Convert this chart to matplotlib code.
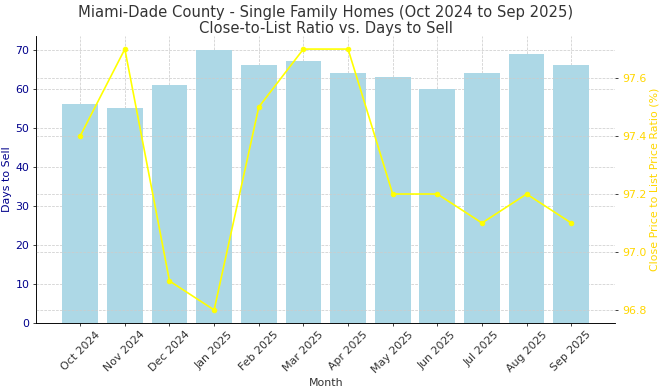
import numpy as np
import matplotlib
matplotlib.use('Agg')
import matplotlib.pyplot as plt

months = ['Oct 2024', 'Nov 2024', 'Dec 2024', 'Jan 2025', 'Feb 2025', 'Mar 2025',
          'Apr 2025', 'May 2025', 'Jun 2025', 'Jul 2025', 'Aug 2025', 'Sep 2025']
days_to_sell = [56, 55, 61, 70, 66, 67, 64, 63, 60, 64, 69, 66]
close_ratio = [97.4, 97.7, 96.9, 96.8, 97.5, 97.7, 97.7, 97.2, 97.2, 97.1, 97.2, 97.1]

fig = plt.figure(figsize=(10, 5.913), dpi=66.3)
ax = fig.add_axes([0.0543, 0.176, 0.874, 0.732])
x = np.arange(len(months))

ax.bar(x, days_to_sell, width=0.8, color='lightblue', zorder=2)
ax.set_ylabel('Days to Sell', color='darkblue', fontsize=12)
ax.tick_params(axis='y', labelcolor='darkblue', labelsize=12)
ax.set_xlabel('Month', fontsize=12, color='#333333')
ax.set_xticks(x)
ax.set_xticklabels(months, rotation=45, fontsize=12, color='#333333')
ax.grid(True, linestyle='--', color='#cccccc', linewidth=0.8, zorder=0)
ax.set_axisbelow(True)

ax2 = ax.twinx()
ax2.plot(x, close_ratio, color='yellow', marker='o', markersize=5, linewidth=1.8)
ax2.set_ylabel('Close Price to List Price Ratio (%)', color='gold', fontsize=12)
ax2.tick_params(axis='y', labelcolor='gold', labelsize=12)
ax2.grid(True, linestyle='--', color='#cccccc', linewidth=0.8)

for a in (ax, ax2):
    a.spines['top'].set_visible(False)
    a.spines['right'].set_visible(False)

ax.set_title('Miami-Dade County - Single Family Homes (Oct 2024 to Sep 2025)\nClose-to-List Ratio vs. Days to Sell',
             fontsize=16, color='#333333', pad=3, linespacing=1.05)

fig.savefig('out.png', dpi=66.3)
